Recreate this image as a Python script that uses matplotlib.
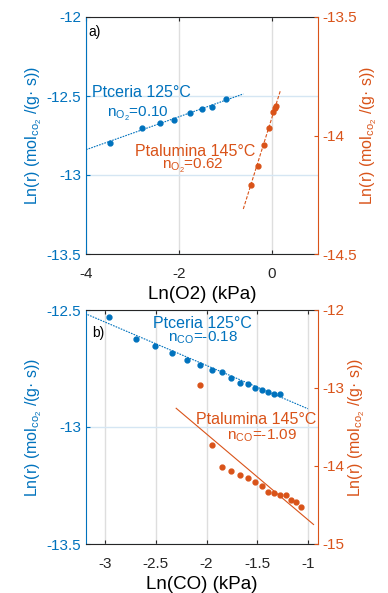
import numpy as np
import matplotlib
matplotlib.use('Agg')
import matplotlib.pyplot as plt

plt.rcParams['font.family'] = ['Liberation Sans', 'DejaVu Sans']
plt.rcParams['mathtext.default'] = 'regular'

BLUE = '#0072BD'
ORANGE = '#D95319'

# a) O2 order
o2_ceria_x = [-3.49, -2.80, -2.40, -2.11, -1.76, -1.51, -1.29, -0.98]
o2_ceria_y = [-12.80, -12.70, -12.67, -12.65, -12.61, -12.58, -12.57, -12.52]
o2_ceria_fit_x = [-4.0, -0.61]
o2_ceria_fit_y = [-12.84, -12.487]

o2_alu_x = [-0.45, -0.30, -0.17, -0.06, 0.04, 0.07, 0.10]
o2_alu_y = [-14.21, -14.13, -14.04, -13.97, -13.90, -13.885, -13.875]
o2_alu_fit_x = [-0.61, 0.19]
o2_alu_fit_y = [-14.31, -13.81]

# b) CO order
co_ceria_x = [-2.96, -2.70, -2.51, -2.34, -2.19, -2.06, -1.95, -1.85, -1.76,
              -1.67, -1.59, -1.52, -1.45, -1.39, -1.33, -1.28]
co_ceria_y = [-12.531, -12.625, -12.655, -12.683, -12.712, -12.736, -12.755,
              -12.766, -12.79, -12.81, -12.817, -12.833, -12.841, -12.85,
              -12.857, -12.86]
co_ceria_fit_x = [-3.2, -1.0]
co_ceria_fit_y = [-12.515, -12.922]

co_alu_x = [-2.06, -1.95, -1.85, -1.76, -1.67, -1.59, -1.52, -1.45, -1.39,
            -1.33, -1.28, -1.22, -1.17, -1.12, -1.07]
co_alu_y = [-12.96, -13.73, -14.01, -14.06, -14.11, -14.16, -14.20, -14.26,
            -14.33, -14.34, -14.37, -14.37, -14.44, -14.46, -14.53]
co_alu_fit_x = [-2.30, -0.944]
co_alu_fit_y = [-13.26, -14.75]

ylab = r'Ln(r) (mol$_{co_2}$ /(g· s))'


def style(ax, ax2):
    for s in ['top', 'bottom']:
        ax.spines[s].set_color('#262626')
    ax.spines['left'].set_color(BLUE)
    ax.spines['right'].set_visible(False)
    ax2.spines['left'].set_visible(False)
    ax2.spines['top'].set_visible(False)
    ax2.spines['bottom'].set_visible(False)
    ax2.spines['right'].set_color(ORANGE)
    ax.tick_params(axis='x', direction='in', length=3, colors='#262626',
                   labelsize=11, top=True, pad=9)
    ax.tick_params(axis='y', direction='in', length=3, colors=BLUE,
                   labelsize=11, right=False)
    ax2.tick_params(axis='y', direction='in', length=3, colors=ORANGE,
                    labelsize=11)
    ax.xaxis.grid(True, color='#dedede', lw=1)
    ax.yaxis.grid(True, color='#d5e6f3', lw=1)
    ax.set_axisbelow(True)
    ax.set_ylabel(ylab, color=BLUE, fontsize=11.5, labelpad=2)
    ax2.set_ylabel(ylab, color=ORANGE, fontsize=11.5, labelpad=1)


fig = plt.figure(figsize=(3.88, 5.93), dpi=100)

# panel a
ax = fig.add_axes([86 / 388, 1 - 254 / 593, 232 / 388, 237 / 593])
ax2 = ax.twinx()
ax.plot(o2_ceria_x, o2_ceria_y, 'o', color=BLUE, ms=3.5)
ax.plot(o2_ceria_fit_x, o2_ceria_fit_y, color=BLUE, lw=0.8, ls=(0, (1.5, 1)))
ax2.plot(o2_alu_x, o2_alu_y, 'o', color=ORANGE, ms=3.5)
ax2.plot(o2_alu_fit_x, o2_alu_fit_y, color=ORANGE, lw=0.8, ls=(0, (3, 1.5)))
ax.set_xlim(-4, 1)
ax.set_ylim(-13.5, -12)
ax2.set_ylim(-14.5, -13.5)
ax.set_xticks([-4, -2, 0])
ax.set_yticks([-13.5, -13, -12.5, -12])
ax.set_yticklabels(['-13.5', '-13', '-12.5', '-12'])
ax2.set_yticks([-14.5, -14, -13.5])
ax2.set_yticklabels(['-14.5', '-14', '-13.5'])
ax.set_xticklabels(['-4', '-2', '0'])
style(ax, ax2)
ax.set_xlabel('Ln(O2) (kPa)', fontsize=13.5, labelpad=4)
ax.text(-3.94, -12.095, 'a)', fontsize=10, va='center', ha='left')
ax.text(-3.87, -12.48, 'Ptceria 125°C', color=BLUE, fontsize=11.5,
        va='center', ha='left')
ax.text(-2.88, -12.615, r'n$_{O_2}$=0.10', color=BLUE, fontsize=11,
        va='center', ha='center')
ax.text(-1.65, -12.85, 'Ptalumina 145°C', color=ORANGE, fontsize=11.5,
        va='center', ha='center')
ax.text(-1.69, -12.945, r'n$_{O_2}$=0.62', color=ORANGE, fontsize=11,
        va='center', ha='center')

# panel b
bx = fig.add_axes([86 / 388, 1 - 544 / 593, 232 / 388, 234 / 593])
bx2 = bx.twinx()
bx.plot(co_ceria_x, co_ceria_y, 'o', color=BLUE, ms=3.5)
bx.plot(co_ceria_fit_x, co_ceria_fit_y, color=BLUE, lw=0.8, ls=(0, (1.5, 1)))
bx2.plot(co_alu_x, co_alu_y, 'o', color=ORANGE, ms=3.5)
bx2.plot(co_alu_fit_x, co_alu_fit_y, color=ORANGE, lw=0.8)
bx.set_xlim(-3.19, -0.9)
bx.set_ylim(-13.5, -12.5)
bx2.set_ylim(-15, -12)
bx.set_xticks([-3, -2.5, -2, -1.5, -1])
bx.set_xticklabels(['-3', '-2.5', '-2', '-1.5', '-1'])
bx.set_yticks([-13.5, -13, -12.5])
bx.set_yticklabels(['-13.5', '-13', '-12.5'])
bx2.set_yticks([-15, -14, -13, -12])
bx2.set_yticklabels(['-15', '-14', '-13', '-12'])
style(bx, bx2)
bx.set_xlabel('Ln(CO) (kPa)', fontsize=13.5, labelpad=4)
bx.text(-3.13, -12.598, 'b)', fontsize=10, va='center', ha='left')
bx.text(-2.037, -12.556, 'Ptceria 125°C', color=BLUE, fontsize=11.5,
        va='center', ha='center')
bx.text(-2.04, -12.618, r'n$_{CO}$=-0.18', color=BLUE, fontsize=11,
        va='center', ha='center')
bx.text(-1.515, -12.97, 'Ptalumina 145°C', color=ORANGE, fontsize=11.5,
        va='center', ha='center')
bx.text(-1.45, -13.037, r'n$_{CO}$=-1.09', color=ORANGE, fontsize=11,
        va='center', ha='center')

fig.savefig('out.png', dpi=100)
